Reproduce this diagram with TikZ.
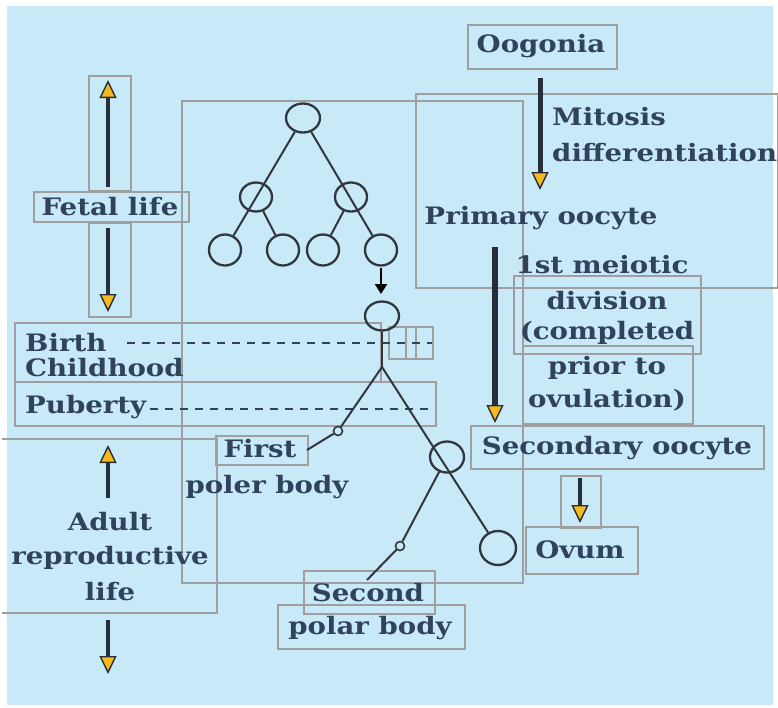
\documentclass[tikz,border=0pt]{standalone}
\usepackage{fontspec}
\setmainfont[FakeStretch=1.15]{DejaVu Serif}
\usetikzlibrary{arrows.meta,shapes.geometric}
\definecolor{bgblue}{RGB}{199,233,248}
\definecolor{boxgray}{RGB}{160,158,158}
\definecolor{txt}{RGB}{48,66,92}
\definecolor{ink}{RGB}{50,55,62}
\definecolor{tipyellow}{RGB}{246,186,30}
\definecolor{shaft}{RGB}{40,45,58}
\tikzset{
 lbl/.style={font=\fontsize{24}{28}\selectfont\bfseries, text=txt, inner sep=0pt},
 frame/.style={draw=boxgray, line width=1.6pt, inner sep=0pt, anchor=north west},
 cell/.style={ellipse, draw=ink, line width=2.3pt, minimum width=32pt, minimum height=29pt, inner sep=0pt},
 dot/.style={circle, draw=ink, line width=1.6pt, minimum size=9pt, inner sep=0pt},
 branch/.style={draw=ink, line width=2pt},
 lifearrow/.style={draw=shaft, line width=4.5pt, -{Triangle[length=18pt,width=17pt,fill=tipyellow,line width=1.4pt]}},
 blackarrow/.style={draw=black, line width=2.2pt, -{Triangle[length=10pt,width=12pt]}},
 stage/.style={draw=txt, line width=2pt, dash pattern=on 8pt off 7pt},
}
\begin{document}
\begin{tikzpicture}[x=1pt,y=-1pt]
\useasboundingbox (0,0) rectangle (778,707);
\fill[white] (0,0) rectangle (778,707);
\fill[bgblue] (7,6) rectangle (773,705);
% frames
\node[frame, minimum width=42pt, minimum height=115pt] (fa) at (88,75) {};
\node[frame, minimum width=155pt, minimum height=30pt] (fb) at (33,191) {};
\node[frame, minimum width=42pt, minimum height=94pt] (fc) at (88,222) {};
\node[frame, minimum width=341pt, minimum height=482pt] (big) at (181,100) {};
\node[frame, minimum width=149pt, minimum height=44pt] (fo) at (467,24) {};
\node[frame, minimum width=362pt, minimum height=194pt] (fr) at (415,93) {};
\node[frame, minimum width=187pt, minimum height=78pt] (fd) at (513,275) {};
\node[frame, minimum width=170pt, minimum height=78pt] (fp) at (522,345) {};
\node[frame, minimum width=293pt, minimum height=43pt] (fs) at (470,425) {};
\node[frame, minimum width=40pt, minimum height=52pt] (fsa) at (560,475) {};
\node[frame, minimum width=112pt, minimum height=47pt] (fov) at (525,526) {};
\node[frame, minimum width=131pt, minimum height=43pt] (fse) at (303,570) {};
\node[frame, minimum width=187pt, minimum height=44pt] (fpb) at (277,604) {};
\node[frame, minimum width=366pt, minimum height=59pt] (fbc) at (14,322) {};
\node[frame, minimum width=17pt, minimum height=32pt] (fx1) at (388,326) {};
\node[frame, minimum width=10pt, minimum height=32pt] (fx2) at (405,326) {};
\node[frame, minimum width=17pt, minimum height=32pt] (fx3) at (415,326) {};
\node[frame, minimum width=421pt, minimum height=44pt] (fpu) at (14,381) {};
\node[frame, minimum width=92pt, minimum height=29pt] (ffi) at (215,435) {};
\coordinate (adA) at (2,439);
\coordinate (adB) at (217,613);
\coordinate (adC) at (2,613);
\draw[boxgray, line width=1.6pt] (adA) -| (adB) -- (adC);
% stage dashed lines
\coordinate (bd1) at (127,343);
\coordinate (bd2) at (432,343);
\coordinate (pd1) at (150,409);
\coordinate (pd2) at (434,409);
\draw[stage] (bd1) -- (bd2);
\draw[stage] (pd1) -- (pd2);
% tree
\node[cell, minimum width=34pt, minimum height=29pt] (t) at (303,118) {};
\node[cell] (m1) at (256,197) {};
\node[cell] (m2) at (351,197) {};
\node[cell, minimum height=31pt] (l1) at (225,250) {};
\node[cell, minimum height=31pt] (l2) at (283,250) {};
\node[cell, minimum height=31pt] (l3) at (323,250) {};
\node[cell, minimum height=31pt] (l4) at (381,250) {};
\draw[branch] (t) -- (l1);
\draw[branch] (t) -- (l4);
\draw[branch] (m1) -- (l2);
\draw[branch] (m2) -- (l3);
\coordinate (ba1) at (381,268);
\coordinate (ba2) at (381,294);
\draw[blackarrow] (ba1) -- (ba2);
\node[cell, minimum width=34pt, minimum height=29pt] (c) at (382,316) {};
\coordinate (sp) at (382,367);
\node[dot] (p1) at (338,431) {};
\coordinate (f1) at (307,450);
\node[cell, minimum width=34pt, minimum height=31pt] (so) at (447,457) {};
\node[cell, minimum width=36pt, minimum height=34pt] (ov) at (498,548) {};
\node[dot] (p2) at (400,546) {};
\coordinate (f2) at (367,580);
\draw[branch] (c) -- (sp);
\draw[branch] (sp) -- (p1);
\draw[branch] (p1) -- (f1);
\draw[branch] (sp) -- (ov);
\draw[branch] (so) -- (p2);
\draw[branch] (p2) -- (f2);
% life arrows
\coordinate (a1s) at (108,187); \coordinate (a1e) at (108,80);
\coordinate (a2s) at (108,228); \coordinate (a2e) at (108,312);
\coordinate (a3s) at (108,498); \coordinate (a3e) at (108,445);
\coordinate (a4s) at (108,620); \coordinate (a4e) at (108,674);
\coordinate (a5s) at (540,78); \coordinate (a5e) at (540,190);
\coordinate (a6s) at (495,247); \coordinate (a6e) at (495,423);
\coordinate (a7s) at (580,478); \coordinate (a7e) at (580,523);
\draw[lifearrow] (a1s) -- (a1e);
\draw[lifearrow] (a2s) -- (a2e);
\draw[lifearrow] (a3s) -- (a3e);
\draw[lifearrow] (a4s) -- (a4e);
\draw[lifearrow, line width=5pt] (a5s) -- (a5e);
\draw[lifearrow, line width=6pt] (a6s) -- (a6e);
\draw[lifearrow, line width=4pt] (a7s) -- (a7e);
% labels
\node[lbl] (tfetal) at (110,207) {Fetal life};
\node[lbl] (toog) at (541,46) {Oogonia};
\node[lbl, anchor=west] (tmit) at (552,117) {Mitosis};
\node[lbl, anchor=west] (tdif) at (552,153) {differentiation};
\node[lbl] (tprim) at (541,218) {Primary oocyte};
\node[lbl] (tmei) at (602,265) {1st meiotic};
\node[lbl] (tdiv) at (607,301) {division};
\node[lbl] (tcomp) at (607,333) {(completed};
\node[lbl] (tprior) at (607,368) {prior to};
\node[lbl] (tovul) at (607,400) {ovulation)};
\node[lbl] (tsec) at (617,448) {Secondary oocyte};
\node[lbl] (tovum) at (580,550) {Ovum};
\node[lbl] (tsecond) at (368,593) {Second};
\node[lbl] (tpolar) at (370,628) {polar body};
\node[lbl] (tfirst) at (260,449) {First};
\node[lbl] (tpoler) at (267,487) {poler body};
\node[lbl, anchor=west] (tbirth) at (25,343) {Birth};
\node[lbl, anchor=west] (tchild) at (25,368) {Childhood};
\node[lbl, anchor=west] (tpub) at (25,407) {Puberty};
\node[lbl] (tadult) at (110,522) {Adult};
\node[lbl] (trepro) at (110,558) {reproductive};
\node[lbl] (tlife) at (110,592) {life};
\end{tikzpicture}
\end{document}
